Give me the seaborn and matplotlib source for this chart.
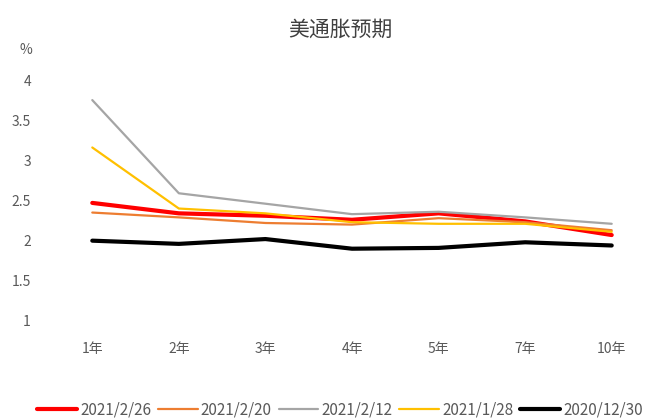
import pandas as pd
import matplotlib
matplotlib.use("Agg")
import matplotlib.pyplot as plt
import seaborn as sns

tenors = ["1年", "2年", "3年", "4年", "5年", "7年", "10年"]
s_0226 = [2.47, 2.34, 2.31, 2.26, 2.34, 2.24, 2.07]
s_0220 = [2.35, 2.29, 2.22, 2.20, 2.28, 2.23, 2.13]
s_0212 = [3.75, 2.59, 2.46, 2.33, 2.36, 2.29, 2.21]
s_0128 = [3.16, 2.40, 2.34, 2.23, 2.21, 2.21, 2.11]
s_1230 = [2.00, 1.96, 2.02, 1.90, 1.91, 1.98, 1.94]

labels = ["2021/2/26", "2021/2/20", "2021/2/12", "2021/1/28", "2020/12/30"]
series = [s_0226, s_0220, s_0212, s_0128, s_1230]
colors = ["#FF0000", "#ED7D31", "#A5A5A5", "#FFC000", "#000000"]
widths = [3.0, 1.6, 1.6, 1.6, 3.0]

rows = []
for lab, vals in zip(labels, series):
    for i, (t, v) in enumerate(zip(tenors, vals)):
        rows.append({"date": lab, "x": i, "tenor": t, "value": v})
df = pd.DataFrame(rows)

sns.set_style("white")
plt.rcParams["font.family"] = ["Noto Sans CJK SC", "DejaVu Sans"]

fig = plt.figure(figsize=(6.48, 4.2), dpi=100)
ax = fig.add_axes([49 / 648, 1 - 321 / 420, 606 / 648, 241 / 420])

for lab, col, lw in zip(labels, colors, widths):
    sns.lineplot(data=df[df["date"] == lab], x="x", y="value", color=col,
                 linewidth=lw, ax=ax, label=lab)

ax.set_xlim(-0.5, 6.5)
ax.set_ylim(1, 4)
ax.set_xticks(range(len(tenors)))
ax.set_xticklabels(tenors)
ax.set_yticks([1, 1.5, 2, 2.5, 3, 3.5, 4])
ax.set_yticklabels(["1", "1.5", "2", "2.5", "3", "3.5", "4"])
ax.set_xlabel("")
ax.set_ylabel("")
for sp in ax.spines.values():
    sp.set_visible(False)
ax.tick_params(axis="both", length=0, colors="#595959", labelsize=10)
ax.tick_params(axis="x", pad=15)
ax.tick_params(axis="y", pad=13)

fig.text(20 / 648, 1 - 50 / 420, "%", color="#595959", fontsize=10,
         ha="left", va="center")
fig.text(340 / 648, 1 - 30 / 420, "美通胀预期", color="#404040", fontsize=15,
         ha="center", va="center")

ax.legend(loc="center", bbox_to_anchor=(340 / 648, 1 - 410 / 420),
          bbox_transform=fig.transFigure, ncol=5, frameon=False,
          fontsize=11, handlelength=2.6, handletextpad=0.2,
          columnspacing=0.45, borderpad=0.1, labelcolor="#595959")

fig.savefig("out.png", dpi=100)
